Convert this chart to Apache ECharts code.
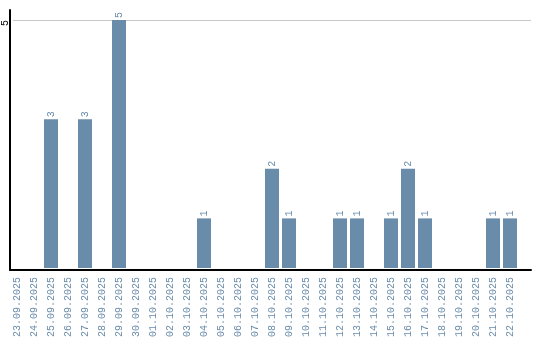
<!DOCTYPE html>
<html>
<head>
<meta charset="utf-8">
<script src="https://cdn.jsdelivr.net/npm/echarts@6/dist/echarts.min.js"></script>
<style>html,body{margin:0;padding:0;background:#fff}#c{width:540px;height:340px}</style>
</head>
<body>
<div id="c"></div>
<script>
var categories = ['23.09.2025','24.09.2025','25.09.2025','26.09.2025','27.09.2025','28.09.2025','29.09.2025','30.09.2025','01.10.2025','02.10.2025','03.10.2025','04.10.2025','05.10.2025','06.10.2025','07.10.2025','08.10.2025','09.10.2025','10.10.2025','11.10.2025','12.10.2025','13.10.2025','14.10.2025','15.10.2025','16.10.2025','17.10.2025','18.10.2025','19.10.2025','20.10.2025','21.10.2025','22.10.2025'];
var counts = [0,0,3,0,3,0,5,0,0,0,0,1,0,0,0,2,1,0,0,1,1,0,1,2,1,0,0,0,1,1];
var yTicks = [5];

var FONT = 'Liberation Mono';
var BLUE = '#6a8cab';
var chart = echarts.init(document.getElementById('c'));
chart.setOption({
  animation: false,
  backgroundColor: '#fff',
  grid: [
    {left: 10, right: 9, top: 10, bottom: 70},
    {left: 10, right: 9, top: 20, bottom: 70},
    {left: 8.5, width: 510, top: 20, bottom: 70}
  ],
  xAxis: [
    {gridIndex: 0, type: 'category', data: categories, axisLine: {show: true, lineStyle: {color: '#000', width: 2}}, axisTick: {show: false}, axisLabel: {show: false}, splitLine: {show: false}},
    {gridIndex: 1, type: 'category', data: categories, show: false},
    {gridIndex: 2, type: 'category', data: categories, axisLine: {show: false}, axisTick: {show: false},
     axisLabel: {interval: 0, rotate: 90, margin: 9, color: BLUE, fontFamily: FONT, fontSize: 10}}
  ],
  yAxis: [
    {gridIndex: 0, type: 'value', min: 0, max: 5.2, axisLine: {show: true, lineStyle: {color: '#000', width: 2}}, axisTick: {show: false}, axisLabel: {show: false}, splitLine: {show: false}},
    {gridIndex: 1, type: 'value', min: 0, max: yTicks[0], interval: yTicks[0], axisLine: {show: false}, axisTick: {show: false},
     splitLine: {show: true, lineStyle: {color: '#c8c8c8', width: 1}},
     axisLabel: {rotate: 90, margin: 3, color: '#000', fontFamily: FONT, fontSize: 10, padding: [0, 6, 0, 0],
       formatter: function (v) { return yTicks.indexOf(v) >= 0 ? String(v) : ''; }}},
    {gridIndex: 2, type: 'value', min: 0, max: 5, show: false}
  ],
  series: [{
    type: 'bar',
    xAxisIndex: 2,
    yAxisIndex: 2,
    data: counts,
    barWidth: 14,
    itemStyle: {color: BLUE},
    label: {
      show: true, position: 'top', rotate: 90, align: 'left', verticalAlign: 'middle', distance: 2,
      color: BLUE, fontFamily: FONT, fontSize: 10,
      formatter: function (p) { return p.value ? String(p.value) : ''; }
    }
  }]
});
</script>
</body>
</html>
